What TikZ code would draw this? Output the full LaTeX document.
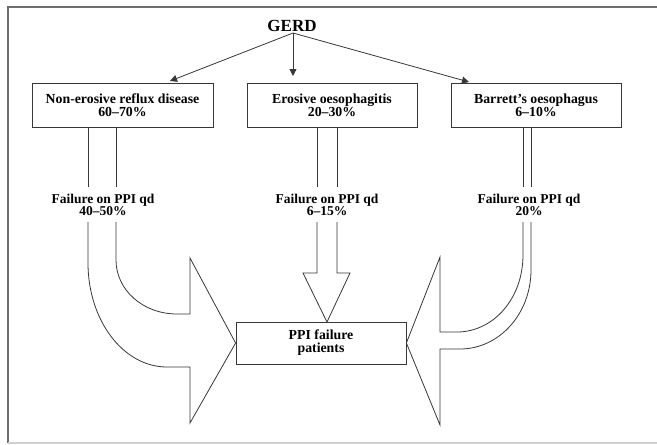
\documentclass[tikz,border=0pt]{standalone}
\usepackage{fontspec}
\setmainfont{Liberation Serif}
\usetikzlibrary{arrows.meta}
\definecolor{frameg}{RGB}{110,110,110}
\definecolor{lineg}{RGB}{55,55,55}
\tikzset{
  boxnode/.style={draw=lineg,line width=0.8pt,minimum width=#1,minimum height=44pt,inner sep=0pt,align=center,
    font=\fontsize{13.8}{13}\selectfont\bfseries},
  lbl/.style={align=center,inner sep=1pt,font=\fontsize{13.5}{12.5}\selectfont\bfseries},
  conn/.style={draw=lineg,line width=0.8pt,-{Triangle[length=7pt,width=7pt]}},
  blockarrow/.style={draw=lineg,line width=0.8pt,line join=miter}
}
\begin{document}
\begin{tikzpicture}[x=1pt,y=-1pt]
\useasboundingbox (0,0) rectangle (657,445);
% frame
\draw[frameg,line width=2pt] (8,443) -- (8,7) -- (657,7);
\draw[black!18,line width=1.5pt] (8,443) -- (657,443);
% title
\node[font=\fontsize{17}{17}\selectfont\bfseries,inner sep=1pt] (gerd) at (292,26) {GERD};
% boxes
\node[boxnode=181pt] (nerd) at (122.5,105) {Non-erosive reflux disease\\60--70\%};
\node[boxnode=170pt] (eros) at (332,105) {Erosive oesophagitis\\20--30\%};
\node[boxnode=170pt] (barr) at (536,105) {Barrett's oesophagus\\6--10\%};
\node[boxnode=170pt,minimum height=42pt] (ppi) at (321,343) {PPI failure\\patients};
% GERD arrows
\coordinate (g0) at (293,33);
\coordinate (t1) at (170,81);
\coordinate (t2) at (293,76);
\coordinate (t3) at (469,82);
\draw[conn] (g0) -- (t1);
\draw[conn] (g0) -- (t2);
\draw[conn] (g0) -- (t3);
% labels
\node[lbl] (f1) at (103,205) {Failure on PPI qd\\40--50\%};
\node[lbl] (f2) at (327,205) {Failure on PPI qd\\6--15\%};
\node[lbl] (f3) at (529,205) {Failure on PPI qd\\20\%};
% left block arrow
\draw[blockarrow] (88,127) -- (88,187);
\draw[blockarrow] (116,127) -- (116,187);
\draw[blockarrow] (88,222) -- (88,263) .. controls (88,320) and (123,367) .. (167,367)
  -- (190,367) -- (190,423) -- (ppi.west) -- (190,258) -- (190,314) -- (177,314)
  .. controls (143,314) and (116,290) .. (116,260) -- (116,222);
% middle block arrow
\draw[blockarrow] (317,127) -- (317,187);
\draw[blockarrow] (337,127) -- (337,187);
\draw[blockarrow] (317,222) -- (317,273) -- (303,273) -- (327,322) -- (350,273) -- (337,273) -- (337,222);
% right block arrow
\draw[blockarrow] (523,127) -- (523,187);
\draw[blockarrow] (531,127) -- (531,187);
\draw[blockarrow] (523,222) -- (523,255) .. controls (523,299) and (493,332) .. (457,332)
  -- (440,332) -- (440,257) -- (ppi.east) -- (440,425) -- (440,349) -- (460,349)
  .. controls (499,349) and (531,314) .. (531,270) -- (531,222);
\end{tikzpicture}
\end{document}
